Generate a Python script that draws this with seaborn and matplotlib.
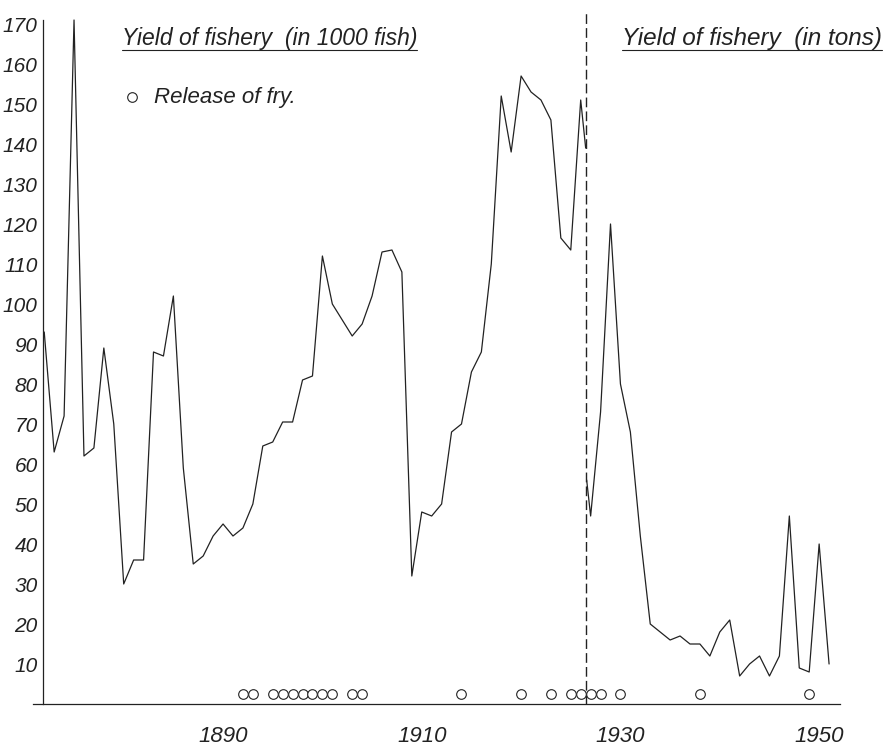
import matplotlib
matplotlib.use("Agg")
import matplotlib.pyplot as plt
import pandas as pd
import seaborn as sns
from matplotlib import font_manager
from matplotlib.ticker import FixedLocator, FuncFormatter

# yield of fishery in 1000 fish (up to the break in 1926)
years_fish = list(range(1872, 1927)) + [1926.5]
yield_fish = [93, 63, 72, 171, 62, 64, 89, 70, 30, 36,
              36, 88, 87, 102, 59, 35, 37, 42, 45, 42,
              44, 50, 64.5, 65.5, 70.5, 70.5, 81, 82, 112, 100,
              96, 92, 95, 102, 113, 113.5, 108, 32, 48, 47,
              50, 68, 70, 83, 88, 110, 152, 138, 157, 153,
              151, 146, 116.5, 113.5, 151, 139]

# yield of fishery in tons (after the break)
years_tons = [1926.6] + list(range(1927, 1952))
yield_tons = [56, 47, 73, 120, 80, 68, 42, 20, 18, 16,
              17, 15, 15, 12, 18, 21, 7, 10, 12, 7,
              12, 47, 9, 8, 40, 10]

# years with release of fry
fry_years = [1892, 1893, 1895, 1896, 1897, 1898, 1899, 1900, 1901, 1903,
             1904, 1914, 1920, 1923, 1925, 1926, 1927, 1928, 1930, 1938, 1949]
fry_level = 2.5

break_year = 1926.55
labelled_years = [1890, 1910, 1930, 1950]
y_ticks = list(range(10, 171, 10))

df_fish = pd.DataFrame({"year": years_fish, "yield": yield_fish})
df_tons = pd.DataFrame({"year": years_tons, "yield": yield_tons})
df_fry = pd.DataFrame({"year": fry_years, "level": [fry_level] * len(fry_years)})

sns.set_theme(style="white")
names = {f.name for f in font_manager.fontManager.ttflist}
font = "Liberation Sans Narrow" if "Liberation Sans Narrow" in names else "Liberation Sans"
plt.rcParams["font.family"] = [font, "DejaVu Sans"]
plt.rcParams["font.style"] = "italic"

ink = "#222222"
fig = plt.figure(figsize=(8.91, 7.46), dpi=100)
ax = fig.add_axes([33 / 891, 42 / 746, 807 / 891, 692 / 746])

sns.lineplot(data=df_fish, x="year", y="yield", color=ink, lw=0.9,
             sort=False, estimator=None, ax=ax)
sns.lineplot(data=df_tons, x="year", y="yield", color=ink, lw=0.9,
             sort=False, estimator=None, ax=ax)
sns.scatterplot(data=df_fry, x="year", y="level", marker="o", s=48,
                facecolor="white", edgecolor=ink, linewidth=0.8,
                label="Release of fry.", zorder=3, ax=ax)
ax.axvline(break_year, color=ink, lw=1.0, ls=(0, (7, 3)))

ax.set_xlim(1870.87, 1952.1)
ax.set_ylim(0, 173)
ax.set_xlabel("")
ax.set_ylabel("")

for side in ["top", "right"]:
    ax.spines[side].set_visible(False)
ax.spines["left"].set_position(("data", 1871.9))
ax.spines["left"].set_bounds(0, 171)
for side in ["left", "bottom"]:
    ax.spines[side].set_color(ink)
    ax.spines[side].set_linewidth(0.9)

ax.xaxis.set_major_locator(FixedLocator(range(1875, 1951, 5)))
ax.xaxis.set_major_formatter(FuncFormatter(lambda v, p: f"{int(v)}" if int(v) in labelled_years else ""))
ax.yaxis.set_major_locator(FixedLocator(y_ticks))
ax.tick_params(axis="x", direction="out", length=4, width=0.8, color=ink,
               pad=12, labelsize=16, labelcolor=ink)
ax.tick_params(axis="y", direction="out", length=3, width=0.8, color=ink,
               pad=1, labelsize=15, labelcolor=ink)

ax.legend(loc="upper left", bbox_to_anchor=(0.098, 0.905), frameon=False,
          handlelength=1.0, handletextpad=0.5, borderaxespad=0, fontsize=16,
          labelcolor=ink)

# headings, underlined
t1 = ax.text(0.110, 0.952, "Yield of fishery  (in 1000 fish)", transform=ax.transAxes,
             fontsize=16.5, va="baseline", color=ink)
t2 = ax.text(0.730, 0.952, "Yield of fishery  (in tons)", transform=ax.transAxes,
             fontsize=17.5, va="baseline", color=ink)
fig.canvas.draw()
renderer = fig.canvas.get_renderer()
for t in (t1, t2):
    bb = t.get_window_extent(renderer)
    (x0, _), (x1, _) = ax.transAxes.inverted().transform([[bb.x0, bb.y0], [bb.x1, bb.y1]])
    ax.plot([x0, x1], [0.952 - 5 / 692] * 2, transform=ax.transAxes,
            color=ink, lw=0.8, clip_on=False)

fig.savefig("out.png", dpi=100)
